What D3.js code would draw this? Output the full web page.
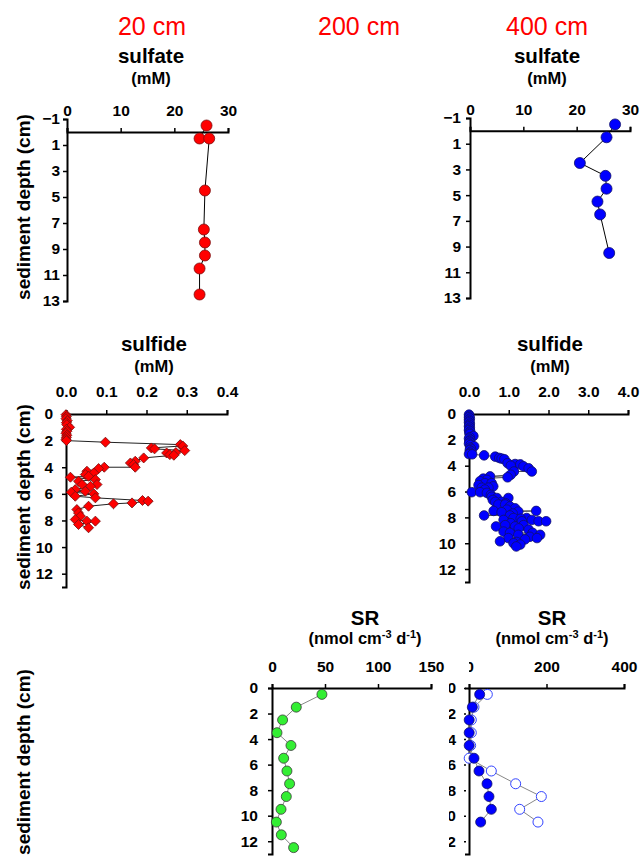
<!DOCTYPE html>
<html>
<head>
<meta charset="utf-8">
<script src="https://cdn.jsdelivr.net/npm/d3@7"></script>
<style>
  body { margin: 0; background: #fff; }
  svg text { font-family: Arial, "Liberation Sans", sans-serif; }
  .axis path { stroke: #000; stroke-width: 2px; }
  .axis line { stroke: #000; stroke-width: 1.5px; }
  .axis text { font-weight: bold; font-size: 15.5px; fill: #000; }
  .head { fill: #ff0000; font-size: 25px; text-anchor: middle; }
  .ttl { font-weight: bold; font-size: 20.5px; text-anchor: middle; }
  .unit { font-weight: bold; font-size: 16.5px; text-anchor: middle; }
  .ylab { font-weight: bold; font-size: 19px; text-anchor: middle; }
</style>
</head>
<body>
<script>
var w = 640, h = 856;

// core headers
var cores = ['20 cm', '200 cm', '400 cm'];

// sulfate (mM)
var so4Depth20 = [-0.5, 0.5, 0.5, 4.5, 7.5, 8.5, 9.5, 10.5, 12.5];
var so4Conc20  = [26.0, 24.7, 26.5, 25.7, 25.5, 25.7, 25.7, 24.7, 24.7];
var so4Depth400 = [-0.5, 0.5, 2.5, 3.5, 4.5, 5.5, 6.5, 9.5];
var so4Conc400  = [27.2, 25.6, 20.6, 25.4, 25.6, 23.9, 24.4, 26.1];

// sulfide (mM), 20 cm
var h2sDepth20 = [0.05, 0.2, 0.35, 0.5, 0.65, 0.8, 1.0, 1.15, 1.3, 1.45, 1.6, 1.75, 1.9, 2.0,
  2.12, 2.3, 2.4, 2.55, 2.62, 2.75, 2.9, 2.93, 3.05, 3.1, 3.3, 3.55, 3.68, 3.8, 4.0,
  4.0, 4.1, 4.3, 4.43, 4.55, 4.68, 4.75, 4.93, 5.05, 5.3, 5.3, 5.43, 5.68, 5.8, 5.88,
  6.0, 6.18, 6.3, 6.5, 6.55, 6.68, 6.75, 6.93, 7.18, 7.43, 7.68, 7.93, 8.05, 8.05, 8.3, 8.55];
var h2sConc20 = [0.000, 0.001, 0.000, 0.003, 0.001, 0.002, 0.009, 0.001, 0.002, 0.000, 0.002, 0.001, 0.000, 0.001,
  0.098, 0.284, 0.290, 0.212, 0.220, 0.295, 0.273, 0.250, 0.258, 0.268, 0.193, 0.172, 0.160, 0.168, 0.172,
  0.095, 0.081, 0.052, 0.069, 0.048, 0.056, 0.011, 0.073, 0.031, 0.040, 0.077, 0.061, 0.023, 0.048, 0.013,
  0.069, 0.023, 0.073, 0.190, 0.204, 0.164, 0.118, 0.056, 0.027, 0.031, 0.036, 0.023, 0.052, 0.073, 0.031, 0.056];

// sulfide (mM), 400 cm
var h2sDepth400 = [0.05, 0.15, 0.25, 0.35, 0.45, 0.55, 0.65, 0.75, 0.85, 0.95, 1.05, 1.15, 1.25, 1.35, 1.45, 1.55,
  1.7, 1.8, 1.9, 2.0, 2.1, 2.2, 2.3, 2.4, 2.5, 2.6, 2.7, 2.8, 2.9, 3.0, 3.1, 3.12,
  3.2, 3.3, 3.4, 3.45, 3.5, 3.8, 3.87, 3.9, 4.0, 4.05, 4.2, 4.45, 4.45, 4.7, 4.83, 4.9,
  5.0, 5.1, 5.2, 5.35, 5.35, 5.5, 5.6, 5.7, 5.7, 5.85, 6.05, 6.05, 6.1, 6.25, 6.4, 6.5, 6.5,
  6.65, 6.8, 6.8, 6.9, 7.0, 7.0, 7.15, 7.3, 7.4, 7.5, 7.5, 7.55, 7.6, 7.7, 7.85, 7.85,
  8.05, 8.05, 8.1, 8.2, 8.2, 8.3, 8.3, 8.3, 8.45, 8.6, 8.6, 8.7, 8.7, 8.85, 8.95,
  9.1, 9.2, 9.2, 9.35, 9.35, 9.5, 9.6, 9.6, 9.7, 9.85, 9.9, 10.0, 10.1, 10.25];
var h2sConc400 = [0.00, 0.01, 0.00, 0.02, 0.00, 0.01, 0.00, 0.02, 0.01, 0.00, 0.02, 0.01, 0.00, 0.03, 0.01, 0.02,
  0.11, 0.02, 0.00, 0.03, 0.01, 0.02, 0.00, 0.04, 0.13, 0.03, 0.05, 0.02, 0.06, 0.03, 0.00, 0.08,
  0.38, 0.66, 0.76, 0.82, 0.89, 0.97, 1.16, 1.29, 1.05, 1.37, 1.50, 1.58, 1.13, 1.05, 0.53, 0.97,
  0.36, 0.45, 0.28, 0.40, 0.57, 0.24, 0.61, 0.32, 0.49, 0.40, 0.07, 0.28, 0.45, 0.55, 0.57, 0.70, 0.99,
  0.60, 0.82, 0.66, 0.92, 0.74, 0.91, 1.03, 1.16, 0.95, 0.62, 1.69, 1.24, 0.82, 1.10, 0.38, 1.03,
  1.12, 1.45, 1.30, 1.58, 0.87, 1.75, 1.94, 1.33, 1.05, 0.91, 1.37, 0.68, 1.16, 1.25, 1.50,
  0.87, 1.03, 1.60, 1.24, 1.79, 1.53, 0.99, 1.71, 1.41, 0.78, 1.20, 1.12, 1.29, 1.19];

// sulfate reduction rates (nmol cm-3 d-1)
var srDepth = [0.5, 1.5, 2.5, 3.5, 4.5, 5.5, 6.5, 7.5, 8.5, 9.5, 10.5, 11.5, 12.5];
var sr200 = [47.1, 22.9, 10.0, 4.7, 17.9, 11.0, 14.1, 16.6, 13.5, 8.5, 4.1, 8.8, 20.4];
var srDepth400 = [0.5, 1.5, 2.5, 3.5, 4.5, 5.5, 6.5, 7.5, 8.5, 9.5, 10.5];
var sr400a = [27.5, 8.6, 0.5, 0.5, 0.5, 12.9, 25.8, 46.5, 51.6, 57.6, 30.1];
var sr400b = [47.3, 12.9, 6.0, 6.0, 4.3, 0.5, 57.6, 120.4, 186.7, 130.8, 178.0];

var svg = d3.select('body').append('svg')
  .attr('width', w)
  .attr('height', h);

// the 400 cm SR frame is partly hidden by its left neighbour
var defs = svg.append('defs');
var clip = defs.append('clipPath').attr('id', 'srclip');
clip.append('rect').attr('x', 469).attr('y', 600).attr('width', 200).attr('height', 80);
clip.append('rect').attr('x', 449).attr('y', 680).attr('width', 200).attr('height', 200);

function zip(a, b) {
  return a.map(function(d, i) { return [d, b[i]]; });
}

// one depth profile frame; returns scales
function panel(o) {
  var x = d3.scaleLinear().domain(o.xDomain).range(o.xRange);
  var y = d3.scaleLinear().domain(o.yDomain).range(o.yRange);
  var g = svg.append('g');
  if (o.clip) g.attr('clip-path', 'url(#srclip)');

  var xAxis = d3.axisTop(x)
    .tickValues(o.xTicks)
    .tickFormat(o.xFormat)
    .tickSizeOuter(0)
    .tickSize(4)
    .tickPadding(o.xPad);
  g.append('g')
    .attr('class', 'axis')
    .attr('transform', 'translate(0,' + y(0) + ')')
    .call(xAxis);

  var yAxis = d3.axisLeft(y)
    .tickValues(o.yTicks)
    .tickFormat(d3.format('d'))
    .tickSizeOuter(0)
    .tickSize(4)
    .tickPadding(o.yPad);
  var ya = g.append('g')
    .attr('class', 'axis')
    .attr('transform', 'translate(' + x(0) + ',0)')
    .call(yAxis);
  if (o.dotted) ya.selectAll('.tick line').attr('x1', -3).attr('x2', -5);

  return { x: x, y: y };
}

function profile(p, pts, o) {
  var line = d3.line()
    .x(function(d) { return p.x(d[1]); })
    .y(function(d) { return p.y(d[0]); });
  svg.append('path')
    .datum(pts)
    .attr('d', line)
    .attr('fill', 'none')
    .attr('stroke', o.line)
    .attr('stroke-width', 1);
  var sym = svg.append('g').selectAll('.pt')
    .data(pts)
    .enter();
  if (o.diamond) {
    sym.append('path')
      .attr('d', d3.symbol().type(d3.symbolSquare).size(o.size))
      .attr('transform', function(d) {
        return 'translate(' + p.x(d[1]) + ',' + p.y(d[0]) + ') rotate(45)';
      })
      .attr('fill', o.fill)
      .attr('stroke', o.stroke)
      .attr('stroke-width', 0.8);
  } else {
    sym.append('circle')
      .attr('cx', function(d) { return p.x(d[1]); })
      .attr('cy', function(d) { return p.y(d[0]); })
      .attr('r', o.r)
      .attr('fill', o.fill)
      .attr('stroke', o.stroke)
      .attr('stroke-width', o.sw || 0.8);
  }
}

function titles(cx, top, name, gap, unitFn) {
  svg.append('text').attr('class', 'ttl').attr('x', cx).attr('y', top).text(name);
  var u = svg.append('text').attr('class', 'unit').attr('x', cx).attr('y', top + gap);
  unitFn(u);
}

function mM(t) { t.text('(mM)'); }
function rateUnit(t) {
  t.append('tspan').text('(nmol cm');
  t.append('tspan').attr('font-size', '11px').attr('dy', -6).text('-3');
  t.append('tspan').attr('dy', 6).text(' d');
  t.append('tspan').attr('font-size', '11px').attr('dy', -6).text('-1');
  t.append('tspan').attr('dy', 6).text(')');
}

function yTitle(cy) {
  svg.append('text')
    .attr('class', 'ylab')
    .attr('transform', 'translate(30,' + cy + ') rotate(-90)')
    .text('sediment depth (cm)');
}

// core headers
svg.selectAll('.head')
  .data(cores)
  .enter()
  .append('text')
  .attr('class', 'head')
  .attr('x', function(d, i) { return [152, 359, 547][i]; })
  .attr('y', 35)
  .text(function(d) { return d; });

var oddTicks = [-1, 1, 3, 5, 7, 9, 11, 13];
var evenTicks = [0, 2, 4, 6, 8, 10, 12];

// sulfate
titles(151, 63, 'sulfate', 21, mM);
titles(547, 63, 'sulfate', 21, mM);
var pA = panel({ xDomain: [0, 30], xRange: [67, 228], yDomain: [-1, 13], yRange: [119, 301],
  xTicks: [0, 10, 20, 30], xFormat: d3.format('d'), xPad: 12, yTicks: oddTicks, yPad: 3 });
var pB = panel({ xDomain: [0, 30], xRange: [470, 630], yDomain: [-1, 13], yRange: [118, 298],
  xTicks: [0, 10, 20, 30], xFormat: d3.format('d'), xPad: 12, yTicks: oddTicks, yPad: 5 });
yTitle(207);
profile(pA, zip(so4Depth20, so4Conc20), { line: '#000', fill: '#ff0000', stroke: '#7a1010', r: 5.5 });
profile(pB, zip(so4Depth400, so4Conc400), { line: '#000', fill: '#0000ff', stroke: '#10106a', r: 5.5 });

// sulfide
titles(154, 351, 'sulfide', 21, mM);
titles(550, 351, 'sulfide', 21, mM);
var pC = panel({ xDomain: [0, 0.4], xRange: [66, 227], yDomain: [0, 13], yRange: [414, 587],
  xTicks: [0, 0.1, 0.2, 0.3, 0.4], xFormat: d3.format('.1f'), xPad: 13, yTicks: evenTicks, yPad: 9 });
var pD = panel({ xDomain: [0, 4], xRange: [469, 628], yDomain: [0, 13], yRange: [414, 582],
  xTicks: [0, 1, 2, 3, 4], xFormat: d3.format('.1f'), xPad: 13, yTicks: evenTicks, yPad: 9 });
yTitle(497);
profile(pC, zip(h2sDepth20, h2sConc20), { line: '#222', fill: '#ff0000', stroke: '#7a1010', diamond: true, size: 50 });
profile(pD, zip(h2sDepth400, h2sConc400), { line: '#555', fill: '#0000ff', stroke: '#10106a', r: 4.8 });

// sulfate reduction
titles(365, 625, 'SR', 19, rateUnit);
titles(552, 625, 'SR', 19, rateUnit);
var pE = panel({ xDomain: [0, 150], xRange: [272, 431], yDomain: [0, 13], yRange: [688, 854],
  xTicks: [0, 50, 100, 150], xFormat: d3.format('d'), xPad: 12, yTicks: evenTicks, yPad: 10 });
var pF = panel({ xDomain: [0, 400], xRange: [469, 624], yDomain: [0, 13], yRange: [688, 854],
  xTicks: [0, 200, 400], xFormat: d3.format('d'), xPad: 12, yTicks: evenTicks, yPad: 9, clip: true, dotted: true });
yTitle(762);
profile(pE, zip(srDepth, sr200), { line: '#888', fill: '#33ee33', stroke: '#3a3a3a', r: 5 });
profile(pF, zip(srDepth400, sr400b), { line: '#888', fill: '#fff', stroke: '#3344ff', r: 5, sw: 1 });
profile(pF, zip(srDepth400, sr400a), { line: '#888', fill: '#0000ff', stroke: '#10106a', r: 5 });
</script>
</body>
</html>
